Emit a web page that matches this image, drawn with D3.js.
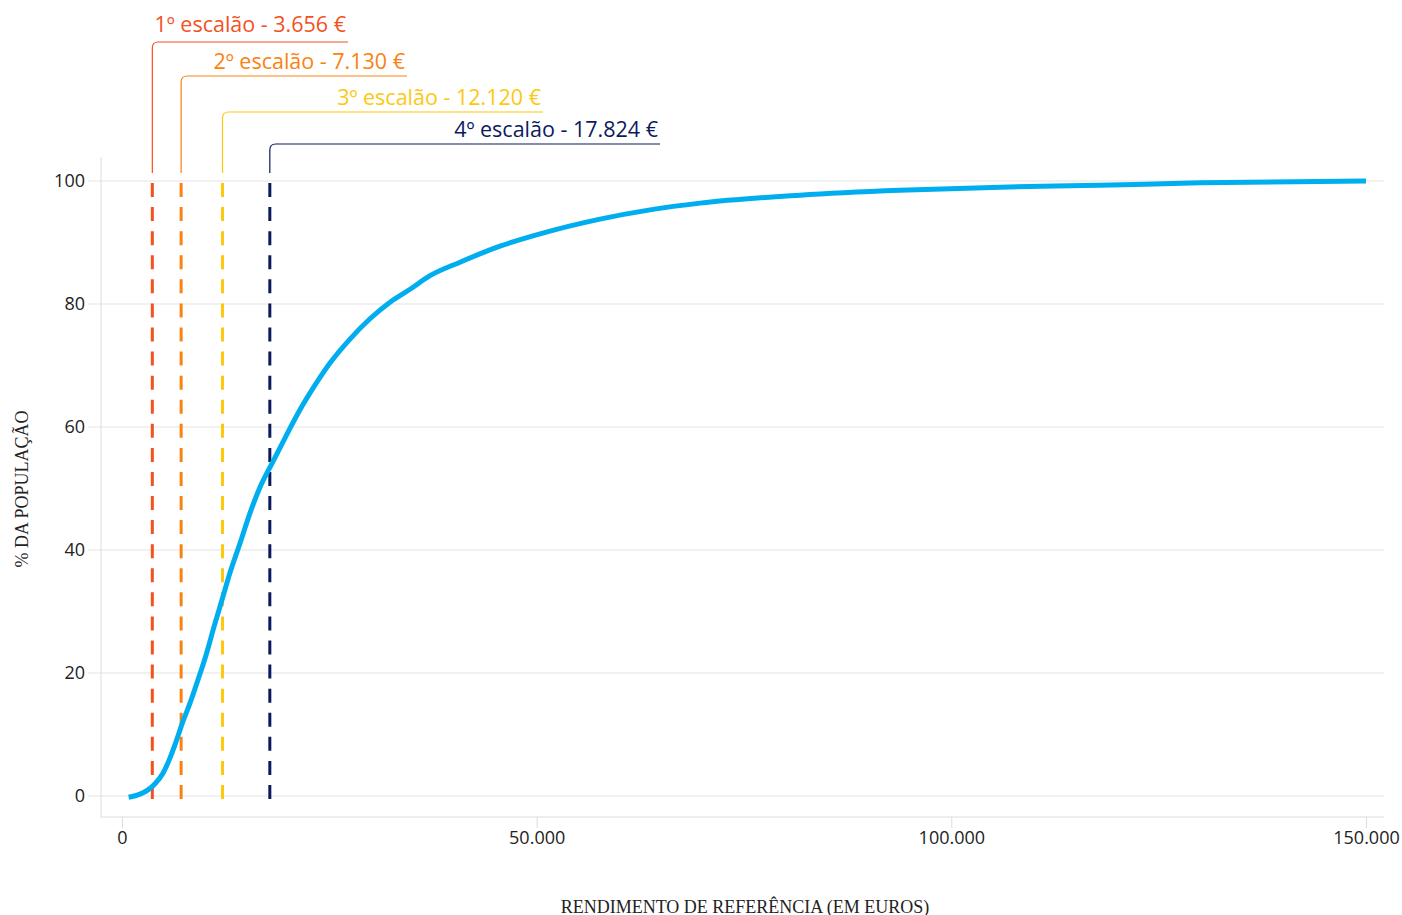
<!DOCTYPE html>
<html><head><meta charset="utf-8">
<script src="https://cdn.jsdelivr.net/npm/d3@7"></script>
<style>
html,body{margin:0;padding:0;background:#fff;}
svg{display:block;}
</style></head>
<body>
<script>
// ---- data ----
const incomeX = [800, 2170, 3135, 3980, 4940, 5790, 6510, 7235, 8200, 9165, 10130, 11090, 12060, 13020, 14230, 15430, 16640, 18090, 19650, 21460, 23270, 25080, 27490, 29900, 32320, 34730, 37140, 40760, 45580, 50400, 57640, 63670, 69700, 81750, 93800, 105880, 117930, 130000, 150000];
const popPct = [-0.2, 0.3, 1.0, 2.0, 3.7, 6.2, 8.8, 11.7, 15.1, 18.9, 22.9, 27.5, 31.9, 36.3, 41.1, 46.0, 50.2, 54.1, 58.2, 62.8, 66.8, 70.4, 74.3, 77.6, 80.3, 82.4, 84.6, 86.8, 89.4, 91.4, 93.8, 95.3, 96.4, 97.7, 98.5, 99.0, 99.3, 99.7, 100];
const bracketValues = [3656, 7130, 12120, 17824];
const bracketLabels = ["1º escalão - 3.656 €", "2º escalão - 7.130 €", "3º escalão - 12.120 €", "4º escalão - 17.824 €"];
const xTicks = [0, 50000, 100000, 150000];
const yTicks = [0, 20, 40, 60, 80, 100];

// ---- styling / layout ----
const W = 1402, H = 915;
const bracketColors = ["#f4511e", "#fb8110", "#fdc80e", "#0b1a5c"];
const labelLineY = [42, 76, 112, 144];
const labelBaseline = [32, 69, 105, 137];
const labelLineEnd = [348, 407, 543, 660];
const fontSans = "'Open Sans','Noto Sans',sans-serif";
const fontSerif = "'Liberation Serif','DejaVu Serif',serif";

const svg = d3.select("body").append("svg").attr("width", W).attr("height", H);

const x = d3.scaleLinear().domain([0, 150000]).range([122, 1366]);
const y = d3.scaleLinear().domain([0, 100]).range([796, 181]);
const pLeft = 101, pRight = 1384, pTop = 157, pBottom = 817;
const fmt = d3.formatLocale({decimal: ",", thousands: ".", grouping: [3], currency: ["", " €"]}).format(",.0f");

// gridlines (with y tick stubs)
svg.append("g").selectAll("line").data(yTicks).join("line")
  .attr("x1", pLeft - 13).attr("x2", pRight)
  .attr("y1", d => y(d)).attr("y2", d => y(d))
  .attr("stroke", "#e3e3e3").attr("stroke-width", 1);

// axis frame
svg.append("line").attr("x1", pLeft).attr("x2", pLeft).attr("y1", pTop).attr("y2", pBottom)
  .attr("stroke", "#dcdcdc").attr("stroke-width", 1);
svg.append("line").attr("x1", pLeft).attr("x2", pRight).attr("y1", pBottom).attr("y2", pBottom)
  .attr("stroke", "#dcdcdc").attr("stroke-width", 1);

// x axis
const xAxis = svg.append("g").attr("transform", `translate(0,${pBottom})`)
  .call(d3.axisBottom(x).tickValues(xTicks).tickFormat(fmt).tickSize(11).tickPadding(3));
xAxis.select(".domain").remove();
xAxis.selectAll(".tick line").attr("stroke", "#dcdcdc");
xAxis.selectAll(".tick text").attr("font-family", fontSans).attr("font-size", 18).attr("fill", "#222");

// y axis
const yAxis = svg.append("g").attr("transform", `translate(${pLeft},0)`)
  .call(d3.axisLeft(y).tickValues(yTicks).tickSize(0).tickPadding(16));
yAxis.select(".domain").remove();
yAxis.selectAll(".tick text").attr("font-family", fontSans).attr("font-size", 18).attr("fill", "#222");

// axis titles
svg.append("text").attr("transform", `translate(28,${(pTop + pBottom) / 2 + 2}) rotate(-90)`)
  .attr("text-anchor", "middle").attr("font-family", fontSerif).attr("font-size", 18)
  .attr("fill", "#222").text("% DA POPULAÇÃO");
svg.append("text").attr("x", 745).attr("y", 913)
  .attr("text-anchor", "middle").attr("font-family", fontSerif).attr("font-size", 18)
  .attr("fill", "#222").text("RENDIMENTO DE REFERÊNCIA (EM EUROS)");

// dashed vertical bracket lines
svg.append("g").selectAll("line").data(bracketValues).join("line")
  .attr("x1", d => x(d)).attr("x2", d => x(d))
  .attr("y1", y(100) + 2).attr("y2", y(0) + 3)
  .attr("stroke", (d, i) => bracketColors[i]).attr("stroke-width", 3)
  .attr("stroke-dasharray", "14,10.08");

// annotation connectors
const r = 6;
svg.append("g").selectAll("path").data(bracketValues).join("path")
  .attr("d", (d, i) => {
    const xv = x(d), ly = labelLineY[i];
    return `M${xv},173 L${xv},${ly + r} Q${xv},${ly} ${xv + r},${ly} L${labelLineEnd[i]},${ly}`;
  })
  .attr("fill", "none").attr("stroke", (d, i) => bracketColors[i]).attr("stroke-width", 1.2);

svg.append("g").selectAll("text").data(bracketLabels).join("text")
  .attr("x", (d, i) => labelLineEnd[i] - 2)
  .attr("y", (d, i) => labelBaseline[i])
  .attr("text-anchor", "end").attr("font-family", fontSans).attr("font-size", 21.5)
  .attr("fill", (d, i) => bracketColors[i]).text(d => d);

// curve
const line = d3.line().x((d, i) => x(incomeX[i])).y(d => y(d)).curve(d3.curveMonotoneX);
svg.append("path").datum(popPct).attr("d", line)
  .attr("fill", "none").attr("stroke", "#00aeef").attr("stroke-width", 5)
  .attr("stroke-linejoin", "round").attr("stroke-linecap", "butt");
</script>
</body></html>
